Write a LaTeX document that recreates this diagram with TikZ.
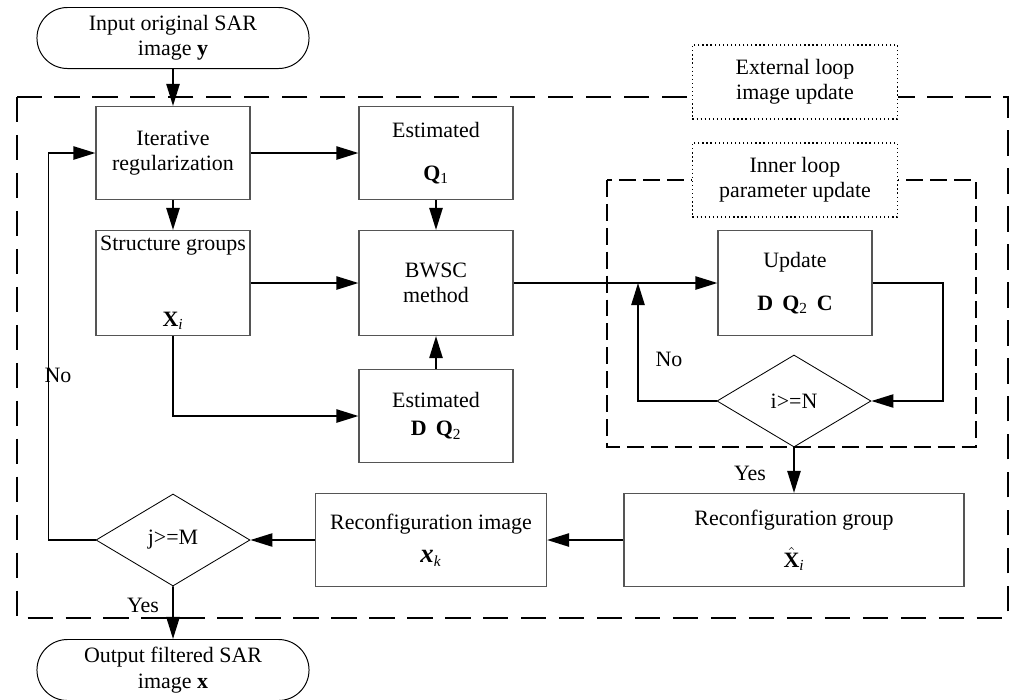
\documentclass[tikz,border=0pt]{standalone}
\usepackage{fontspec}
\setmainfont{Liberation Serif}
\usetikzlibrary{arrows.meta,shapes.geometric,shapes.misc}
\definecolor{EdgeGray}{HTML}{555555}

\begin{document}
\begin{tikzpicture}[x=0.025cm, y=-0.025cm,
  font=\fontsize{15.6}{18}\selectfont,
  box/.style={draw=EdgeGray, line width=0.8pt, minimum width=3.85cm, minimum height=2.325cm, align=center, inner sep=0pt},
  term/.style={draw, rounded rectangle, line width=0.7pt, minimum width=6.8cm, minimum height=1.525cm, align=center, inner sep=0pt},
  decide/.style={draw, diamond, line width=0.6pt, minimum width=3.85cm, minimum height=2.3cm, inner sep=0pt},
  tag/.style={draw, dotted, line width=0.9pt, fill=white, minimum width=5.125cm, minimum height=1.85cm, align=center},
  arr/.style={-{Triangle[length=5.5mm,width=3.3mm]}, line width=1.3pt}
]
\useasboundingbox (0,0) rectangle (1014,699);

% loop frames
\draw[line width=1.4pt, dash pattern=on 18pt off 9pt] (17,97) rectangle (1008,618);
\draw[line width=1.1pt, dash pattern=on 12pt off 5pt] (607,180) rectangle (976,447);
\node[tag] (outer) at (795,82) {External loop\\image update};
\node[tag] (inner) at (795,180) {Inner loop\\parameter update};

% flow nodes
\node[term] (start) at (173,38) {Input original SAR\\image \textbf{y}};
\node[box] (iter) at (173,153) {Iterative\\regularization};
\node[box] (estq) at (436,153) {Estimated\\[13pt]\textbf{Q}\textsubscript{1}};
\node[box, minimum height=2.625cm] (struct) at (173,283) {Structure groups\\[36pt]\textbf{X}\textsubscript{\textit{i}}};
\node[box, minimum height=2.625cm] (bwsc) at (436,283) {BWSC\\method};
\node[box] (estd) at (436,416) {Estimated\\[2pt]\textbf{D}\, \textbf{Q}\textsubscript{2}};
\node[box, minimum height=2.625cm] (upd) at (795,283) {Update\\[13pt]\textbf{D}\, \textbf{Q}\textsubscript{2}\, \textbf{C}};
\node[decide] (chkn) at (794,401) {i>=N};
\node[box, minimum width=8.5cm] (rgrp) at (794,540) {Reconfiguration group\\[12pt]$\hat{\textbf{X}}$\textsubscript{\textit{i}}};
\node[box, minimum width=5.775cm] (rimg) at (431,540) {Reconfiguration image\\[6pt]{\fontsize{19}{19}\selectfont\textbf{\textit{x}}}\textsubscript{\textit{k}}};
\node[decide] (chkm) at (173,540) {j>=M};
\node[term] (stop) at (173,670) {Output filtered SAR\\image \textbf{x}};

% connectors
\coordinate (join) at (638,283);
\draw[arr] (start) -- (iter);
\draw[arr] (iter) -- (estq);
\draw[arr] (iter) -- (struct);
\draw[arr] (estq) -- (bwsc);
\draw[arr] (struct) -- (bwsc);
\draw[arr] (estd) -- (bwsc);
\draw[arr] (struct.south) |- (estd.west);
\draw[arr] (bwsc) -- (upd);
\draw[arr] (upd.east) -- ++(70,0) |- (chkn.east);
\draw[arr] (chkn.west) -| (join);
\draw[arr] (chkn.south) -- (rgrp.north);
\draw[arr] (rgrp) -- (rimg);
\draw[arr] (rimg) -- (chkm);
\draw[arr] (chkm.west) -- ++(-47,0) |- (iter.west);
\draw[arr] (chkm) -- (stop);

% branch labels
\node (noout) at (58,375) {No};
\node (noin) at (669,359) {No};
\node (yesout) at (143,605) {Yes};
\node (yesin) at (750,473) {Yes};
\end{tikzpicture}
\end{document}
